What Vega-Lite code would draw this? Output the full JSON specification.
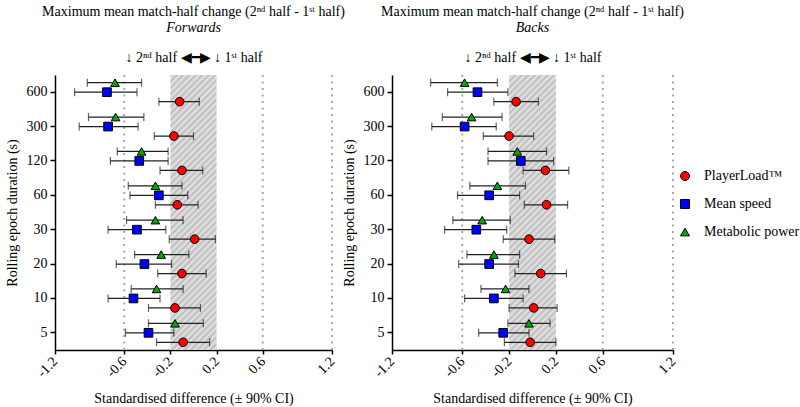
{
"$schema": "https://vega.github.io/schema/vega-lite/v6.json",
"background": "white",
"padding": {"left": 5, "top": 5, "right": 5, "bottom": 2},
"spacing": 60,
"bounds": "flush",
"config": {
  "font": "Liberation Serif",
  "view": {"stroke": null},
  "axis": {"labelFont": "Liberation Serif", "titleFont": "Liberation Serif", "labelFontSize": 14, "titleFontSize": 14, "labelColor": "black", "titleColor": "black", "titleFontWeight": "normal", "domainColor": "black", "domainWidth": 1.5, "tickColor": "black", "tickWidth": 1.5, "grid": false},
  "title": {"font": "Liberation Serif", "fontSize": 14, "fontWeight": "normal", "color": "black", "subtitleFont": "Liberation Serif", "subtitleFontSize": 14, "subtitleFontStyle": "italic", "subtitleColor": "black", "offset": 15, "subtitlePadding": 2, "anchor": "middle", "frame": "group"},
  "legend": {"labelFont": "Liberation Serif", "labelFontSize": 14, "labelColor": "black", "symbolSize": 80, "rowPadding": 14, "labelOffset": 12, "symbolStrokeColor": "black", "symbolStrokeWidth": 1}
},
"datasets": {
  "forwards": [
    {"dur":"600","var":"Metabolic power","est":-0.68,"lo":-0.92,"hi":-0.45},
    {"dur":"600","var":"Mean speed","est":-0.75,"lo":-1.03,"hi":-0.49},
    {"dur":"600","var":"PlayerLoad™","est":-0.12,"lo":-0.30,"hi":0.05},
    {"dur":"300","var":"Metabolic power","est":-0.675,"lo":-0.91,"hi":-0.43},
    {"dur":"300","var":"Mean speed","est":-0.74,"lo":-0.99,"hi":-0.48},
    {"dur":"300","var":"PlayerLoad™","est":-0.17,"lo":-0.34,"hi":0.0},
    {"dur":"120","var":"Metabolic power","est":-0.45,"lo":-0.66,"hi":-0.22},
    {"dur":"120","var":"Mean speed","est":-0.47,"lo":-0.72,"hi":-0.22},
    {"dur":"120","var":"PlayerLoad™","est":-0.10,"lo":-0.29,"hi":0.08},
    {"dur":"60","var":"Metabolic power","est":-0.33,"lo":-0.565,"hi":-0.10},
    {"dur":"60","var":"Mean speed","est":-0.30,"lo":-0.55,"hi":-0.05},
    {"dur":"60","var":"PlayerLoad™","est":-0.14,"lo":-0.33,"hi":0.04},
    {"dur":"30","var":"Metabolic power","est":-0.33,"lo":-0.58,"hi":-0.09},
    {"dur":"30","var":"Mean speed","est":-0.49,"lo":-0.74,"hi":-0.24},
    {"dur":"30","var":"PlayerLoad™","est":0.01,"lo":-0.21,"hi":0.19},
    {"dur":"20","var":"Metabolic power","est":-0.28,"lo":-0.51,"hi":-0.04},
    {"dur":"20","var":"Mean speed","est":-0.425,"lo":-0.67,"hi":-0.19},
    {"dur":"20","var":"PlayerLoad™","est":-0.10,"lo":-0.31,"hi":0.11},
    {"dur":"10","var":"Metabolic power","est":-0.32,"lo":-0.54,"hi":-0.09},
    {"dur":"10","var":"Mean speed","est":-0.52,"lo":-0.74,"hi":-0.29},
    {"dur":"10","var":"PlayerLoad™","est":-0.16,"lo":-0.39,"hi":0.06},
    {"dur":"5","var":"Metabolic power","est":-0.16,"lo":-0.39,"hi":0.085},
    {"dur":"5","var":"Mean speed","est":-0.39,"lo":-0.59,"hi":-0.17},
    {"dur":"5","var":"PlayerLoad™","est":-0.09,"lo":-0.32,"hi":0.14}
  ],
  "backs": [
    {"dur":"600","var":"Metabolic power","est":-0.58,"lo":-0.87,"hi":-0.30},
    {"dur":"600","var":"Mean speed","est":-0.47,"lo":-0.725,"hi":-0.21},
    {"dur":"600","var":"PlayerLoad™","est":-0.14,"lo":-0.33,"hi":0.05},
    {"dur":"300","var":"Metabolic power","est":-0.52,"lo":-0.77,"hi":-0.26},
    {"dur":"300","var":"Mean speed","est":-0.58,"lo":-0.86,"hi":-0.31},
    {"dur":"300","var":"PlayerLoad™","est":-0.20,"lo":-0.42,"hi":0.01},
    {"dur":"120","var":"Metabolic power","est":-0.13,"lo":-0.38,"hi":0.12},
    {"dur":"120","var":"Mean speed","est":-0.10,"lo":-0.38,"hi":0.18},
    {"dur":"120","var":"PlayerLoad™","est":0.11,"lo":-0.08,"hi":0.31},
    {"dur":"60","var":"Metabolic power","est":-0.30,"lo":-0.535,"hi":-0.06},
    {"dur":"60","var":"Mean speed","est":-0.37,"lo":-0.64,"hi":-0.11},
    {"dur":"60","var":"PlayerLoad™","est":0.12,"lo":-0.07,"hi":0.30},
    {"dur":"30","var":"Metabolic power","est":-0.43,"lo":-0.68,"hi":-0.19},
    {"dur":"30","var":"Mean speed","est":-0.48,"lo":-0.75,"hi":-0.22},
    {"dur":"30","var":"PlayerLoad™","est":-0.03,"lo":-0.25,"hi":0.19},
    {"dur":"20","var":"Metabolic power","est":-0.33,"lo":-0.56,"hi":-0.11},
    {"dur":"20","var":"Mean speed","est":-0.37,"lo":-0.63,"hi":-0.12},
    {"dur":"20","var":"PlayerLoad™","est":0.07,"lo":-0.15,"hi":0.29},
    {"dur":"10","var":"Metabolic power","est":-0.23,"lo":-0.44,"hi":-0.03},
    {"dur":"10","var":"Mean speed","est":-0.33,"lo":-0.58,"hi":-0.08},
    {"dur":"10","var":"PlayerLoad™","est":0.01,"lo":-0.20,"hi":0.21},
    {"dur":"5","var":"Metabolic power","est":-0.03,"lo":-0.21,"hi":0.15},
    {"dur":"5","var":"Mean speed","est":-0.25,"lo":-0.46,"hi":-0.03},
    {"dur":"5","var":"PlayerLoad™","est":-0.02,"lo":-0.24,"hi":0.20}
  ]
},
"hconcat": [
{
  "width": 277, "height": 275,
  "data": {"name": "forwards"},
  "title": {"text": "Maximum mean match-half change (2ⁿᵈ half - 1ˢᵗ half)", "subtitle": "Forwards"},
  "layer": [
    {"data": {"values": [{}]},
     "mark": {"type": "rect", "fill": {"gradient": "linear", "x1": 0, "y1": 0, "x2": 0.191, "y2": 1.136, "stops": [{"offset":0,"color":"#bbb"},{"offset":0.01,"color":"#e6e6e6"},{"offset":0.02,"color":"#bbb"},{"offset":0.03,"color":"#e6e6e6"},{"offset":0.04,"color":"#bbb"},{"offset":0.05,"color":"#e6e6e6"},{"offset":0.06,"color":"#bbb"},{"offset":0.07,"color":"#e6e6e6"},{"offset":0.08,"color":"#bbb"},{"offset":0.09,"color":"#e6e6e6"},{"offset":0.1,"color":"#bbb"},{"offset":0.11,"color":"#e6e6e6"},{"offset":0.12,"color":"#bbb"},{"offset":0.13,"color":"#e6e6e6"},{"offset":0.14,"color":"#bbb"},{"offset":0.15,"color":"#e6e6e6"},{"offset":0.16,"color":"#bbb"},{"offset":0.17,"color":"#e6e6e6"},{"offset":0.18,"color":"#bbb"},{"offset":0.19,"color":"#e6e6e6"},{"offset":0.2,"color":"#bbb"},{"offset":0.21,"color":"#e6e6e6"},{"offset":0.22,"color":"#bbb"},{"offset":0.23,"color":"#e6e6e6"},{"offset":0.24,"color":"#bbb"},{"offset":0.25,"color":"#e6e6e6"},{"offset":0.26,"color":"#bbb"},{"offset":0.27,"color":"#e6e6e6"},{"offset":0.28,"color":"#bbb"},{"offset":0.29,"color":"#e6e6e6"},{"offset":0.3,"color":"#bbb"},{"offset":0.31,"color":"#e6e6e6"},{"offset":0.32,"color":"#bbb"},{"offset":0.33,"color":"#e6e6e6"},{"offset":0.34,"color":"#bbb"},{"offset":0.35,"color":"#e6e6e6"},{"offset":0.36,"color":"#bbb"},{"offset":0.37,"color":"#e6e6e6"},{"offset":0.38,"color":"#bbb"},{"offset":0.39,"color":"#e6e6e6"},{"offset":0.4,"color":"#bbb"},{"offset":0.41,"color":"#e6e6e6"},{"offset":0.42,"color":"#bbb"},{"offset":0.43,"color":"#e6e6e6"},{"offset":0.44,"color":"#bbb"},{"offset":0.45,"color":"#e6e6e6"},{"offset":0.46,"color":"#bbb"},{"offset":0.47,"color":"#e6e6e6"},{"offset":0.48,"color":"#bbb"},{"offset":0.49,"color":"#e6e6e6"},{"offset":0.5,"color":"#bbb"},{"offset":0.51,"color":"#e6e6e6"},{"offset":0.52,"color":"#bbb"},{"offset":0.53,"color":"#e6e6e6"},{"offset":0.54,"color":"#bbb"},{"offset":0.55,"color":"#e6e6e6"},{"offset":0.56,"color":"#bbb"},{"offset":0.57,"color":"#e6e6e6"},{"offset":0.58,"color":"#bbb"},{"offset":0.59,"color":"#e6e6e6"},{"offset":0.6,"color":"#bbb"},{"offset":0.61,"color":"#e6e6e6"},{"offset":0.62,"color":"#bbb"},{"offset":0.63,"color":"#e6e6e6"},{"offset":0.64,"color":"#bbb"},{"offset":0.65,"color":"#e6e6e6"},{"offset":0.66,"color":"#bbb"},{"offset":0.67,"color":"#e6e6e6"},{"offset":0.68,"color":"#bbb"},{"offset":0.69,"color":"#e6e6e6"},{"offset":0.7,"color":"#bbb"},{"offset":0.71,"color":"#e6e6e6"},{"offset":0.72,"color":"#bbb"},{"offset":0.73,"color":"#e6e6e6"},{"offset":0.74,"color":"#bbb"},{"offset":0.75,"color":"#e6e6e6"},{"offset":0.76,"color":"#bbb"},{"offset":0.77,"color":"#e6e6e6"},{"offset":0.78,"color":"#bbb"},{"offset":0.79,"color":"#e6e6e6"},{"offset":0.8,"color":"#bbb"},{"offset":0.81,"color":"#e6e6e6"},{"offset":0.82,"color":"#bbb"},{"offset":0.83,"color":"#e6e6e6"},{"offset":0.84,"color":"#bbb"},{"offset":0.85,"color":"#e6e6e6"},{"offset":0.86,"color":"#bbb"},{"offset":0.87,"color":"#e6e6e6"},{"offset":0.88,"color":"#bbb"},{"offset":0.89,"color":"#e6e6e6"},{"offset":0.9,"color":"#bbb"},{"offset":0.91,"color":"#e6e6e6"},{"offset":0.92,"color":"#bbb"},{"offset":0.93,"color":"#e6e6e6"},{"offset":0.94,"color":"#bbb"},{"offset":0.95,"color":"#e6e6e6"},{"offset":0.96,"color":"#bbb"},{"offset":0.97,"color":"#e6e6e6"},{"offset":0.98,"color":"#bbb"},{"offset":0.99,"color":"#e6e6e6"},{"offset":1,"color":"#bbb"}]}},
     "encoding": {
       "x": {"datum": -0.2, "type": "quantitative", "scale": {"domain": [-1.2, 1.2], "nice": false, "zero": false},
             "axis": {"orient": "bottom", "values": [-1.2, -0.6, -0.2, 0.2, 0.6, 1.2], "title": "Standardised difference (± 90% CI)", "labelAngle": -45, "labelAlign": "right", "labelBaseline": "middle", "labelExpr": "replace(format(datum.value, '.1f'), '−', '-')", "tickSize": 4, "labelPadding": 5, "titlePadding": 12}},
       "x2": {"datum": 0.2}
     }},
    {"data": {"values": [{"v": -0.6}, {"v": 0.6}, {"v": 1.2}]},
     "mark": {"type": "rule", "color": "#a8a8a8", "strokeWidth": 2, "strokeDash": [2, 4.5]},
     "encoding": {
       "x": {"field": "v", "type": "quantitative", "scale": {"domain": [-1.2, 1.2], "nice": false, "zero": false},
             "axis": {"orient": "top", "title": "↓ 2ⁿᵈ half  ◀━▶  ↓ 1ˢᵗ half", "labels": false, "ticks": false, "domain": false, "titlePadding": 11}}
     }},
    {"mark": {"type": "rule", "color": "#222", "strokeWidth": 1.2},
     "encoding": {
       "x": {"field": "lo", "type": "quantitative", "scale": {"domain": [-1.2, 1.2], "nice": false, "zero": false}, "axis": null},
       "x2": {"field": "hi"},
       "y": {"field": "dur", "type": "ordinal", "sort": ["600","300","120","60","30","20","10","5"], "scale": {"type": "band", "paddingInner": 0, "paddingOuter": 0}, "axis": {"title": "Rolling epoch duration (s)", "tickSize": 5, "labelPadding": 3, "titlePadding": 7}},
       "yOffset": {"field": "var", "type": "nominal", "sort": ["Metabolic power", "Mean speed", "PlayerLoad™"], "scale": {"paddingInner": 0, "paddingOuter": 0.31}}
     }},
    {"mark": {"type": "tick", "color": "#222", "thickness": 1.2, "size": 8},
     "encoding": {
       "x": {"field": "lo", "type": "quantitative", "scale": {"domain": [-1.2, 1.2], "nice": false, "zero": false}, "axis": null},
       "y": {"field": "dur", "type": "ordinal", "sort": ["600","300","120","60","30","20","10","5"], "scale": {"type": "band", "paddingInner": 0, "paddingOuter": 0}, "axis": {"title": "Rolling epoch duration (s)", "tickSize": 5, "labelPadding": 3, "titlePadding": 7}},
       "yOffset": {"field": "var", "type": "nominal", "sort": ["Metabolic power", "Mean speed", "PlayerLoad™"], "scale": {"paddingInner": 0, "paddingOuter": 0.31}}
     }},
    {"mark": {"type": "tick", "color": "#222", "thickness": 1.2, "size": 8},
     "encoding": {
       "x": {"field": "hi", "type": "quantitative", "scale": {"domain": [-1.2, 1.2], "nice": false, "zero": false}, "axis": null},
       "y": {"field": "dur", "type": "ordinal", "sort": ["600","300","120","60","30","20","10","5"], "scale": {"type": "band", "paddingInner": 0, "paddingOuter": 0}, "axis": {"title": "Rolling epoch duration (s)", "tickSize": 5, "labelPadding": 3, "titlePadding": 7}},
       "yOffset": {"field": "var", "type": "nominal", "sort": ["Metabolic power", "Mean speed", "PlayerLoad™"], "scale": {"paddingInner": 0, "paddingOuter": 0.31}}
     }},
    {"mark": {"type": "point", "filled": true, "stroke": "black", "strokeWidth": 1, "size": 75, "opacity": 1},
     "encoding": {
       "x": {"field": "est", "type": "quantitative", "scale": {"domain": [-1.2, 1.2], "nice": false, "zero": false}, "axis": null},
       "y": {"field": "dur", "type": "ordinal", "sort": ["600","300","120","60","30","20","10","5"], "scale": {"type": "band", "paddingInner": 0, "paddingOuter": 0}, "axis": {"title": "Rolling epoch duration (s)", "tickSize": 5, "labelPadding": 3, "titlePadding": 7}},
       "yOffset": {"field": "var", "type": "nominal", "sort": ["Metabolic power", "Mean speed", "PlayerLoad™"], "scale": {"paddingInner": 0, "paddingOuter": 0.31}},
       "color": {"field": "var", "type": "nominal", "scale": {"domain": ["PlayerLoad™", "Mean speed", "Metabolic power"], "range": ["#ff0000", "#0000ff", "#00aa00"]}, "legend": {"title": null, "orient": "none", "legendX": 623, "legendY": 94}},
       "shape": {"field": "var", "type": "nominal", "scale": {"domain": ["PlayerLoad™", "Mean speed", "Metabolic power"], "range": ["circle", "square", "triangle-up"]}, "legend": {"title": null, "orient": "none", "legendX": 623, "legendY": 94}}
     }}
  ],
  "resolve": {"axis": {"x": "independent"}}
},
{
  "width": 281, "height": 275,
  "data": {"name": "backs"},
  "title": {"text": "Maximum mean match-half change (2ⁿᵈ half - 1ˢᵗ half)", "subtitle": "Backs"},
  "layer": [
    {"data": {"values": [{}]},
     "mark": {"type": "rect", "fill": {"gradient": "linear", "x1": 0, "y1": 0, "x2": 0.193, "y2": 1.137, "stops": [{"offset":0,"color":"#bbb"},{"offset":0.01,"color":"#e6e6e6"},{"offset":0.02,"color":"#bbb"},{"offset":0.03,"color":"#e6e6e6"},{"offset":0.04,"color":"#bbb"},{"offset":0.05,"color":"#e6e6e6"},{"offset":0.06,"color":"#bbb"},{"offset":0.07,"color":"#e6e6e6"},{"offset":0.08,"color":"#bbb"},{"offset":0.09,"color":"#e6e6e6"},{"offset":0.1,"color":"#bbb"},{"offset":0.11,"color":"#e6e6e6"},{"offset":0.12,"color":"#bbb"},{"offset":0.13,"color":"#e6e6e6"},{"offset":0.14,"color":"#bbb"},{"offset":0.15,"color":"#e6e6e6"},{"offset":0.16,"color":"#bbb"},{"offset":0.17,"color":"#e6e6e6"},{"offset":0.18,"color":"#bbb"},{"offset":0.19,"color":"#e6e6e6"},{"offset":0.2,"color":"#bbb"},{"offset":0.21,"color":"#e6e6e6"},{"offset":0.22,"color":"#bbb"},{"offset":0.23,"color":"#e6e6e6"},{"offset":0.24,"color":"#bbb"},{"offset":0.25,"color":"#e6e6e6"},{"offset":0.26,"color":"#bbb"},{"offset":0.27,"color":"#e6e6e6"},{"offset":0.28,"color":"#bbb"},{"offset":0.29,"color":"#e6e6e6"},{"offset":0.3,"color":"#bbb"},{"offset":0.31,"color":"#e6e6e6"},{"offset":0.32,"color":"#bbb"},{"offset":0.33,"color":"#e6e6e6"},{"offset":0.34,"color":"#bbb"},{"offset":0.35,"color":"#e6e6e6"},{"offset":0.36,"color":"#bbb"},{"offset":0.37,"color":"#e6e6e6"},{"offset":0.38,"color":"#bbb"},{"offset":0.39,"color":"#e6e6e6"},{"offset":0.4,"color":"#bbb"},{"offset":0.41,"color":"#e6e6e6"},{"offset":0.42,"color":"#bbb"},{"offset":0.43,"color":"#e6e6e6"},{"offset":0.44,"color":"#bbb"},{"offset":0.45,"color":"#e6e6e6"},{"offset":0.46,"color":"#bbb"},{"offset":0.47,"color":"#e6e6e6"},{"offset":0.48,"color":"#bbb"},{"offset":0.49,"color":"#e6e6e6"},{"offset":0.5,"color":"#bbb"},{"offset":0.51,"color":"#e6e6e6"},{"offset":0.52,"color":"#bbb"},{"offset":0.53,"color":"#e6e6e6"},{"offset":0.54,"color":"#bbb"},{"offset":0.55,"color":"#e6e6e6"},{"offset":0.56,"color":"#bbb"},{"offset":0.57,"color":"#e6e6e6"},{"offset":0.58,"color":"#bbb"},{"offset":0.59,"color":"#e6e6e6"},{"offset":0.6,"color":"#bbb"},{"offset":0.61,"color":"#e6e6e6"},{"offset":0.62,"color":"#bbb"},{"offset":0.63,"color":"#e6e6e6"},{"offset":0.64,"color":"#bbb"},{"offset":0.65,"color":"#e6e6e6"},{"offset":0.66,"color":"#bbb"},{"offset":0.67,"color":"#e6e6e6"},{"offset":0.68,"color":"#bbb"},{"offset":0.69,"color":"#e6e6e6"},{"offset":0.7,"color":"#bbb"},{"offset":0.71,"color":"#e6e6e6"},{"offset":0.72,"color":"#bbb"},{"offset":0.73,"color":"#e6e6e6"},{"offset":0.74,"color":"#bbb"},{"offset":0.75,"color":"#e6e6e6"},{"offset":0.76,"color":"#bbb"},{"offset":0.77,"color":"#e6e6e6"},{"offset":0.78,"color":"#bbb"},{"offset":0.79,"color":"#e6e6e6"},{"offset":0.8,"color":"#bbb"},{"offset":0.81,"color":"#e6e6e6"},{"offset":0.82,"color":"#bbb"},{"offset":0.83,"color":"#e6e6e6"},{"offset":0.84,"color":"#bbb"},{"offset":0.85,"color":"#e6e6e6"},{"offset":0.86,"color":"#bbb"},{"offset":0.87,"color":"#e6e6e6"},{"offset":0.88,"color":"#bbb"},{"offset":0.89,"color":"#e6e6e6"},{"offset":0.9,"color":"#bbb"},{"offset":0.91,"color":"#e6e6e6"},{"offset":0.92,"color":"#bbb"},{"offset":0.93,"color":"#e6e6e6"},{"offset":0.94,"color":"#bbb"},{"offset":0.95,"color":"#e6e6e6"},{"offset":0.96,"color":"#bbb"},{"offset":0.97,"color":"#e6e6e6"},{"offset":0.98,"color":"#bbb"},{"offset":0.99,"color":"#e6e6e6"},{"offset":1,"color":"#bbb"}]}},
     "encoding": {
       "x": {"datum": -0.2, "type": "quantitative", "scale": {"domain": [-1.2, 1.2], "nice": false, "zero": false},
             "axis": {"orient": "bottom", "values": [-1.2, -0.6, -0.2, 0.2, 0.6, 1.2], "title": "Standardised difference (± 90% CI)", "labelAngle": -45, "labelAlign": "right", "labelBaseline": "middle", "labelExpr": "replace(format(datum.value, '.1f'), '−', '-')", "tickSize": 4, "labelPadding": 5, "titlePadding": 12}},
       "x2": {"datum": 0.2}
     }},
    {"data": {"values": [{"v": -0.6}, {"v": 0.6}, {"v": 1.2}]},
     "mark": {"type": "rule", "color": "#a8a8a8", "strokeWidth": 2, "strokeDash": [2, 4.5]},
     "encoding": {
       "x": {"field": "v", "type": "quantitative", "scale": {"domain": [-1.2, 1.2], "nice": false, "zero": false},
             "axis": {"orient": "top", "title": "↓ 2ⁿᵈ half  ◀━▶  ↓ 1ˢᵗ half", "labels": false, "ticks": false, "domain": false, "titlePadding": 11}}
     }},
    {"mark": {"type": "rule", "color": "#222", "strokeWidth": 1.2},
     "encoding": {
       "x": {"field": "lo", "type": "quantitative", "scale": {"domain": [-1.2, 1.2], "nice": false, "zero": false}, "axis": null},
       "x2": {"field": "hi"},
       "y": {"field": "dur", "type": "ordinal", "sort": ["600","300","120","60","30","20","10","5"], "scale": {"type": "band", "paddingInner": 0, "paddingOuter": 0}, "axis": {"title": "Rolling epoch duration (s)", "tickSize": 5, "labelPadding": 3, "titlePadding": 7}},
       "yOffset": {"field": "var", "type": "nominal", "sort": ["Metabolic power", "Mean speed", "PlayerLoad™"], "scale": {"paddingInner": 0, "paddingOuter": 0.31}}
     }},
    {"mark": {"type": "tick", "color": "#222", "thickness": 1.2, "size": 8},
     "encoding": {
       "x": {"field": "lo", "type": "quantitative", "scale": {"domain": [-1.2, 1.2], "nice": false, "zero": false}, "axis": null},
       "y": {"field": "dur", "type": "ordinal", "sort": ["600","300","120","60","30","20","10","5"], "scale": {"type": "band", "paddingInner": 0, "paddingOuter": 0}, "axis": {"title": "Rolling epoch duration (s)", "tickSize": 5, "labelPadding": 3, "titlePadding": 7}},
       "yOffset": {"field": "var", "type": "nominal", "sort": ["Metabolic power", "Mean speed", "PlayerLoad™"], "scale": {"paddingInner": 0, "paddingOuter": 0.31}}
     }},
    {"mark": {"type": "tick", "color": "#222", "thickness": 1.2, "size": 8},
     "encoding": {
       "x": {"field": "hi", "type": "quantitative", "scale": {"domain": [-1.2, 1.2], "nice": false, "zero": false}, "axis": null},
       "y": {"field": "dur", "type": "ordinal", "sort": ["600","300","120","60","30","20","10","5"], "scale": {"type": "band", "paddingInner": 0, "paddingOuter": 0}, "axis": {"title": "Rolling epoch duration (s)", "tickSize": 5, "labelPadding": 3, "titlePadding": 7}},
       "yOffset": {"field": "var", "type": "nominal", "sort": ["Metabolic power", "Mean speed", "PlayerLoad™"], "scale": {"paddingInner": 0, "paddingOuter": 0.31}}
     }},
    {"mark": {"type": "point", "filled": true, "stroke": "black", "strokeWidth": 1, "size": 75, "opacity": 1},
     "encoding": {
       "x": {"field": "est", "type": "quantitative", "scale": {"domain": [-1.2, 1.2], "nice": false, "zero": false}, "axis": null},
       "y": {"field": "dur", "type": "ordinal", "sort": ["600","300","120","60","30","20","10","5"], "scale": {"type": "band", "paddingInner": 0, "paddingOuter": 0}, "axis": {"title": "Rolling epoch duration (s)", "tickSize": 5, "labelPadding": 3, "titlePadding": 7}},
       "yOffset": {"field": "var", "type": "nominal", "sort": ["Metabolic power", "Mean speed", "PlayerLoad™"], "scale": {"paddingInner": 0, "paddingOuter": 0.31}},
       "color": {"field": "var", "type": "nominal", "scale": {"domain": ["PlayerLoad™", "Mean speed", "Metabolic power"], "range": ["#ff0000", "#0000ff", "#00aa00"]}, "legend": {"title": null, "orient": "none", "legendX": 623, "legendY": 94}},
       "shape": {"field": "var", "type": "nominal", "scale": {"domain": ["PlayerLoad™", "Mean speed", "Metabolic power"], "range": ["circle", "square", "triangle-up"]}, "legend": {"title": null, "orient": "none", "legendX": 623, "legendY": 94}}
     }}
  ],
  "resolve": {"axis": {"x": "independent"}}
}
]
}
